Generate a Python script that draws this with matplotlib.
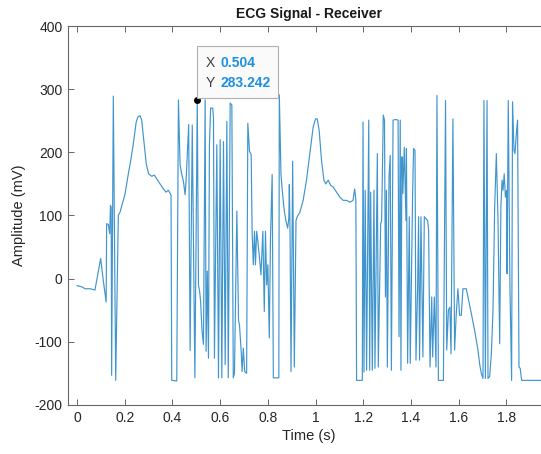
import matplotlib
matplotlib.use("Agg")
import matplotlib.pyplot as plt
import matplotlib.transforms as mtransforms
from matplotlib.patches import Rectangle

plt.rcParams['font.family'] = ['Liberation Sans', 'DejaVu Sans']
plt.rcParams['axes.unicode_minus'] = False

# Received ECG samples: time (s) and amplitude (mV)
time_s = [
    0.000, 0.020, 0.034, 0.055, 0.075, 0.085, 0.099, 0.110, 0.122, 0.124,
    0.131, 0.137, 0.140, 0.143, 0.145, 0.152, 0.162, 0.173, 0.180, 0.190,
    0.200, 0.215, 0.225, 0.236, 0.248, 0.255, 0.264, 0.271, 0.281, 0.290,
    0.300, 0.313, 0.324, 0.334, 0.348, 0.362, 0.373, 0.383, 0.390, 0.394,
    0.397, 0.418,
    0.425, 0.432, 0.439, 0.446, 0.453, 0.457, 0.468, 0.474, 0.483, 0.494,
    0.504, 0.509, 0.514, 0.518, 0.524, 0.530, 0.537, 0.541, 0.546, 0.551,
    0.555, 0.560, 0.569, 0.572, 0.576, 0.586, 0.593, 0.600, 0.607, 0.614,
    0.621, 0.628, 0.634, 0.642, 0.649, 0.655, 0.660, 0.670, 0.677, 0.681,
    0.688, 0.692, 0.697, 0.703, 0.711,
    0.716, 0.723, 0.730, 0.734, 0.739, 0.744, 0.748, 0.753, 0.758, 0.765,
    0.771, 0.779, 0.785, 0.790, 0.795, 0.800, 0.806, 0.811, 0.818, 0.823,
    0.846, 0.848, 0.855, 0.862, 0.869, 0.876, 0.883, 0.888, 0.890, 0.893,
    0.897, 0.904, 0.911,
    0.918, 0.923, 0.934, 0.948, 0.962, 0.976, 0.990, 1.000, 1.007, 1.015,
    1.025, 1.035, 1.043, 1.053, 1.063, 1.074, 1.088, 1.102, 1.116, 1.130,
    1.144, 1.157, 1.164, 1.169, 1.172, 1.196,
    1.199, 1.203, 1.208, 1.214, 1.223, 1.227, 1.231, 1.238, 1.245, 1.249,
    1.259, 1.263, 1.273, 1.277, 1.284, 1.289, 1.293, 1.297, 1.301, 1.308,
    1.313, 1.318, 1.325, 1.336, 1.346, 1.350, 1.355, 1.358, 1.362, 1.366,
    1.372, 1.379, 1.381, 1.386, 1.393, 1.397, 1.407, 1.411, 1.417, 1.421,
    1.428, 1.432, 1.436, 1.442, 1.446, 1.450, 1.456, 1.463, 1.470, 1.474,
    1.480, 1.487, 1.491, 1.498, 1.505, 1.509, 1.515, 1.536, 1.545, 1.550,
    1.557, 1.563, 1.568, 1.576, 1.583, 1.590, 1.597, 1.604, 1.611, 1.618,
    1.632, 1.639, 1.653, 1.667, 1.674, 1.681, 1.688, 1.695, 1.702, 1.706,
    1.712, 1.719, 1.723, 1.730, 1.737, 1.744, 1.751, 1.758, 1.765, 1.772,
    1.777, 1.782, 1.786, 1.791, 1.796, 1.801, 1.803, 1.808, 1.815, 1.822,
    1.826, 1.832, 1.836, 1.843, 1.847, 1.853, 1.858, 1.864, 1.990,
]
amplitude_mv = [
    -11, -13, -16, -16, -18, 3, 32, -3, -37, 87,
    86, 71, 116, 113, -153, 289, -161, 100, 105, 119,
    132, 166, 187, 214, 248, 256, 258, 251, 214, 182,
    166, 162, 164, 158, 150, 142, 137, 140, 135, 132,
    -161, -162,
    283, 180, 165, 154, 133, 154, 244, -114, 243, -157,
    283.242, -10, -20, -36, -83, -104, 283, -115, 12, -126,
    212, 270, 270, 254, -126, 212, -157, 220, -157, 217,
    -136, 249, -157, 278, 275, -157, -150, 107, -66, -73,
    -114, -147, -110, -147, -150,
    246, 202, 196, 75, 22, 75, 22, 75, 59, 33,
    6, 75, -52, 75, -10, 22, -94, 64, 165, -157,
    -157, 291, 165, 133, 107, 91, 80, 96, 149, 74,
    -147, 186, -140,
    92, 98, 105, 124, 156, 198, 240, 253, 253, 235,
    187, 156, 150, 156, 148, 145, 137, 129, 124, 124,
    121, 124, 142, 124, -161, -161,
    248, -148, 140, -145, 251, -145, 137, -145, 140, -142,
    198, -140, 87, 92, 259, 251, -29, 140, -140, 161,
    195, -145, 251, 252, 251, -92, 251, -145, 193, 135,
    208, 92, 206, -134, 98, -134, 135, 206, 203, -129,
    -13, 98, -129, 98, -13, -124, 98, 95, 92, 77,
    -140, -29, -124, -29, -140, 290, -161, -161, 282, -113,
    -50, -45, -119, 253, -113, -55, -16, -58, -58, -16,
    -16, -29, -55, -82, -98, -113, -135, -150, -158, 282,
    -158, 282, -158, -155, -119, -50, 113, 198, 92, -103,
    113, 156, 140, 166, 129, 140, 8, 282, -13, -161,
    280, 203, 198, 235, 251, -140, -142, -161, -161,
]

tip_x, tip_y = 0.504, 283.242

x_ticks = [0, 0.2, 0.4, 0.6, 0.8, 1, 1.2, 1.4, 1.6, 1.8]
x_labels = ['0', '0.2', '0.4', '0.6', '0.8', '1', '1.2', '1.4', '1.6', '1.8']
y_ticks = [-200, -100, 0, 100, 200, 300, 400]

fig = plt.figure(figsize=(5.41, 4.54), dpi=100)
ax = fig.add_axes([68 / 541, 49 / 454, 482 / 541, 379 / 454])

ax.plot(time_s, amplitude_mv, color='#0072BD', linewidth=0.85, alpha=0.75)

ax.set_xlim(-0.038, 1.983)
ax.set_ylim(-200, 400)
ax.set_xticks(x_ticks)
ax.set_xticklabels(x_labels)
ax.set_yticks(y_ticks)

axis_color = '#666666'
for side in ax.spines.values():
    side.set_color(axis_color)
    side.set_linewidth(0.8)
ax.tick_params(direction='in', length=4, width=0.7, color=axis_color,
               labelsize=10, labelcolor='#262626', top=True, right=True, pad=4)

ax.set_title('ECG Signal - Receiver', fontsize=10, fontweight='bold',
             color='#1a1a1a', pad=6)
ax.set_xlabel('Time (s)', fontsize=10.5, color='#262626', labelpad=3)
ax.set_ylabel('Amplitude (mV)', fontsize=10.5, color='#262626', labelpad=6)

# Data tip on the selected sample
ax.plot(tip_x, tip_y, 'o', color='black', markersize=4, zorder=5)
tip_trans = fig.dpi_scale_trans + mtransforms.ScaledTranslation(tip_x, tip_y, ax.transData)
ax.add_patch(Rectangle((0.0, 0.02), 0.81, 0.52, transform=tip_trans,
                       facecolor='#fafafa', edgecolor='#b0b0b0', linewidth=0.8,
                       clip_on=False, zorder=6))
ax.text(0.08, 0.37, 'X', transform=tip_trans, fontsize=10, color='#404040',
        va='center', ha='left', zorder=7)
ax.text(0.23, 0.37, f'{tip_x:.3f}', transform=tip_trans, fontsize=10,
        color='#1e90e0', fontweight='bold', va='center', ha='left', zorder=7)
ax.text(0.08, 0.17, 'Y', transform=tip_trans, fontsize=10, color='#404040',
        va='center', ha='left', zorder=7)
ax.text(0.23, 0.17, f'{tip_y:.3f}', transform=tip_trans, fontsize=10,
        color='#1e90e0', fontweight='bold', va='center', ha='left', zorder=7)

fig.savefig('out.png', dpi=100, facecolor='white')
